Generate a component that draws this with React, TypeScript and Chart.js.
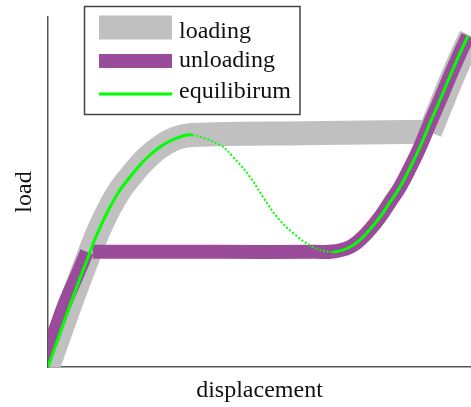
import React, { useEffect, useRef } from 'react';
import { Chart, registerables } from 'chart.js';

Chart.register(...registerables);

// ---- data (displacement, load) ----
const xTitle = 'displacement';
const yTitle = 'load';
const seriesLabels = ['loading', 'unloading', 'equilibirum'];

// equilibrium path (stable branch, unstable branch, stable branch)
const eqX = [
  0, 0.284, 0.591, 0.922, 1.182, 1.466, 1.702, 1.939, 2.175, 2.411, 2.648, 2.884, 3.121, 3.404,
  4.066, 4.374, 4.775, 5.083, 5.414, 5.792, 6.265, 6.738,
  7.139, 7.447, 7.849, 8.085, 8.322, 8.558, 8.794, 9.031, 9.267, 9.504, 9.74, 9.929,
];
const eqY = [
  0, 0.971, 2.0, 3.057, 3.857, 4.571, 5.057, 5.429, 5.771, 6.057, 6.286, 6.457, 6.571, 6.629,
  6.343, 6.0, 5.429, 4.857, 4.286, 3.829, 3.429, 3.286,
  3.429, 3.714, 4.286, 4.714, 5.143, 5.686, 6.286, 6.971, 7.629, 8.314, 8.971, 9.457,
];
const eqUnstableStart = 13; // peak index
const eqUnstableEnd = 21; // valley index

// loading: rise + plateau, then snap onto upper branch
const loadRiseX = [0, 0.284, 0.591, 0.922, 1.182, 1.466, 1.702, 1.939, 2.175, 2.411, 2.648, 2.884, 3.121, 3.404, 6.0, 8.96];
const loadRiseY = [0, 0.971, 2.0, 3.057, 3.857, 4.571, 5.057, 5.429, 5.771, 6.057, 6.286, 6.457, 6.571, 6.629, 6.68, 6.72];
const loadJumpX = [9.03, 9.34, 9.57, 9.81, 10.0];
const loadJumpY = [6.71, 7.63, 8.31, 8.97, 9.46];

// unloading: upper branch down + lower plateau, then snap onto lower branch
const unloadMainX = [1.06, 4.0, 6.3, 6.738, 7.139, 7.447, 7.849, 8.085, 8.322, 8.558, 8.794, 9.031, 9.267, 9.504, 9.74, 9.929];
const unloadMainY = [3.29, 3.29, 3.29, 3.3, 3.429, 3.714, 4.286, 4.714, 5.143, 5.686, 6.286, 6.971, 7.629, 8.314, 8.971, 9.457];
const unloadDropX = [-0.19, -0.09, 0.17, 0.43, 0.69, 0.92];
const unloadDropY = [-0.14, 0.2, 1.06, 1.91, 2.63, 3.29];

const pts = (xs: number[], ys: number[]) => xs.map((x, i) => ({ x, y: ys[i] }));

const GRAY = '#c0c0c0';
const PURPLE = '#9a4c9a';
const GREEN = '#00ff00';
const FONT_FAMILY = '"Liberation Serif", "Times New Roman", serif';

const legendBoxPlugin = {
  id: 'legendBox',
  afterDraw(chart: any) {
    const ctx = chart.ctx as CanvasRenderingContext2D;
    ctx.save();
    ctx.fillStyle = '#ffffff';
    ctx.fillRect(84, 6.5, 216, 108);
    ctx.strokeStyle = '#444';
    ctx.lineWidth = 1.5;
    ctx.strokeRect(84.5, 6.5, 215.5, 108);
    const seen = new Set<string>();
    const items: any[] = [];
    chart.data.datasets.forEach((ds: any) => {
      if (!seen.has(ds.label)) {
        seen.add(ds.label);
        items.push(ds);
      }
    });
    const rowY = [27.5, 61, 94];
    const textY = [38, 67, 98];
    items.forEach((ds, i) => {
      ctx.beginPath();
      ctx.strokeStyle = ds.borderColor;
      ctx.lineWidth = ds.borderWidth;
      ctx.lineCap = 'butt';
      ctx.moveTo(99, rowY[i]);
      ctx.lineTo(172, rowY[i]);
      ctx.stroke();
      ctx.fillStyle = '#111';
      ctx.font = `24px ${FONT_FAMILY}`;
      ctx.textBaseline = 'alphabetic';
      ctx.textAlign = 'left';
      ctx.fillText(ds.label, 179, textY[i]);
    });
    ctx.restore();
  },
};

export default function App() {
  const ref = useRef<HTMLCanvasElement>(null);
  useEffect(() => {
    if (!ref.current) return;
    const common = {
      pointRadius: 0,
      tension: 0.4,
      fill: false,
      clip: 0,
      borderCapStyle: 'butt' as const,
      borderJoinStyle: 'round' as const,
    };
    const unstable = (c: any) => c.p0DataIndex >= eqUnstableStart && c.p1DataIndex <= eqUnstableEnd;
    const chart = new Chart(ref.current, {
      type: 'line',
      data: {
        datasets: [
          { ...common, label: seriesLabels[0], data: pts(loadRiseX, loadRiseY), borderColor: GRAY, borderWidth: 24, order: 3 },
          { ...common, label: seriesLabels[0], data: pts(loadJumpX, loadJumpY), borderColor: GRAY, borderWidth: 24, order: 3 },
          { ...common, label: seriesLabels[1], data: pts(unloadMainX, unloadMainY), borderColor: PURPLE, borderWidth: 14, order: 2 },
          { ...common, label: seriesLabels[1], data: pts(unloadDropX, unloadDropY), borderColor: PURPLE, borderWidth: 14, order: 2 },
          {
            ...common,
            label: seriesLabels[2],
            data: pts(eqX, eqY),
            borderColor: GREEN,
            borderWidth: 3,
            order: 1,
            segment: {
              borderDash: (c: any) => (unstable(c) ? [2, 2] : undefined),
              borderWidth: (c: any) => (unstable(c) ? 2 : undefined),
            },
          } as any,
        ],
      },
      options: {
        animation: false,
        responsive: false,
        devicePixelRatio: 1,
        events: [],
        layout: { padding: { top: 17, left: 0, right: 0, bottom: 0 } },
        plugins: { legend: { display: false }, tooltip: { enabled: false } },
        scales: {
          x: {
            type: 'linear',
            min: 0,
            max: 10,
            grid: { display: false },
            ticks: { display: false },
            border: { display: true, color: '#555', width: 1.5 },
            title: {
              display: true,
              text: xTitle,
              color: '#111',
              font: { family: FONT_FAMILY, size: 24 },
              padding: { top: 0, bottom: 1.6 },
            },
            afterFit: (s: any) => {
              s.height = 40;
            },
          },
          y: {
            type: 'linear',
            min: 0,
            max: 10,
            grid: { display: false },
            ticks: { display: false },
            border: { display: true, color: '#555', width: 1.5 },
            title: {
              display: true,
              text: yTitle,
              color: '#111',
              font: { family: FONT_FAMILY, size: 24 },
              padding: { top: 10.5, bottom: 0 },
            },
            afterFit: (s: any) => {
              s.width = 48;
            },
          },
        },
      },
      plugins: [legendBoxPlugin],
    } as any);
    return () => chart.destroy();
  }, []);
  return (
    <div style={{ position: 'fixed', left: 0, top: 0, width: 471, height: 407, background: '#fff' }}>
      <canvas ref={ref} width={471} height={407} style={{ display: 'block', width: 471, height: 407 }} />
    </div>
  );
}
